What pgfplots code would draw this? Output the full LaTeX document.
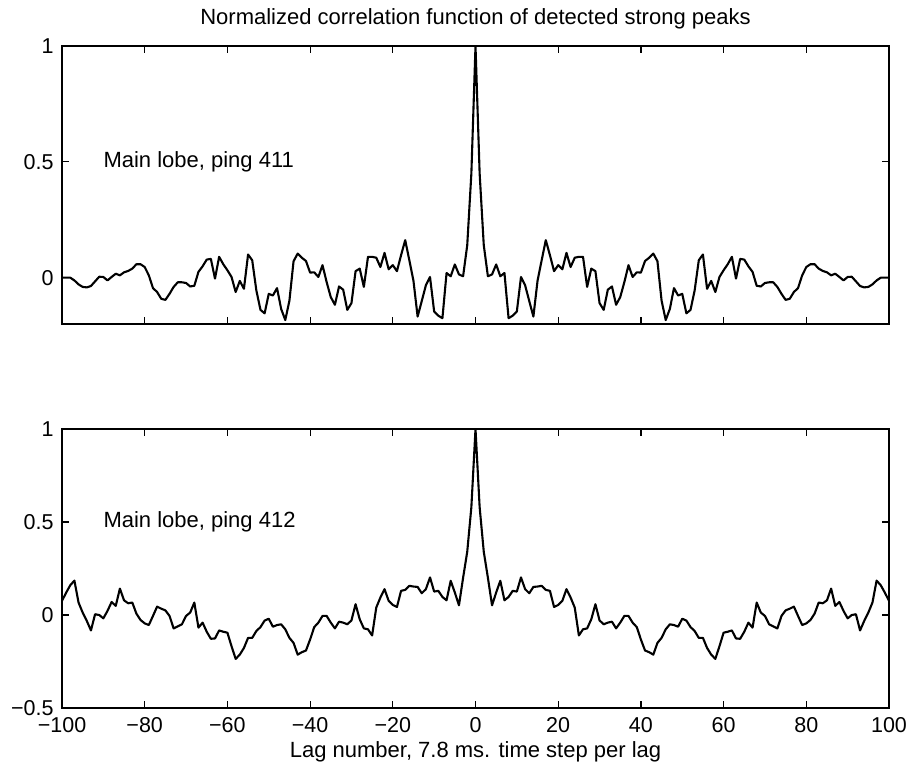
\documentclass[border=0pt]{standalone}
\usepackage{pgfplots}
\pgfplotsset{compat=1.18}
\usepackage{fontspec}
\setmainfont{Liberation Sans}
\pgfplotsset{
  myax/.style={
    scale only axis, width=827bp, anchor=south west,
    xmin=-100, xmax=100,
    tick align=inside, major tick length=7bp,
    axis line style={line width=1.6bp},
    every tick/.style={line width=1.2bp, black},
    tick label style={font=\fontsize{21.5bp}{25bp}\selectfont},
    xtick={-100,-80,-60,-40,-20,0,20,40,60,80,100},
  },
  myline/.style={black, no markers, line width=2.1bp, line join=round}
}
\begin{document}
\fontsize{22bp}{26bp}\selectfont
\begin{tikzpicture}
\path[use as bounding box] (0bp,0bp) rectangle (911bp,766bp);
\begin{axis}[myax, at={(62bp,442bp)}, height=278bp,
  ymin=-0.2, ymax=1,
  xticklabels={},
  ytick={0,0.5,1}, yticklabels={0,0.5,1},
  yticklabel style={xshift=-1bp}]
\addplot[myline] coordinates {
(-100,0) (-99,0) (-98,0) (-97,-0.012) (-96,-0.029) (-95,-0.04) (-94,-0.042) (-93,-0.036) (-92,-0.016) (-91,0.004)
(-90,0.003) (-89,-0.012) (-88,0.003) (-87,0.017) (-86,0.01) (-85,0.023) (-84,0.029) (-83,0.039) (-82,0.058) (-81,0.058)
(-80,0.046) (-79,0.01) (-78,-0.045) (-77,-0.062) (-76,-0.091) (-75,-0.096) (-74,-0.07) (-73,-0.04) (-72,-0.02) (-71,-0.02)
(-70,-0.023) (-69,-0.038) (-68,-0.035) (-67,0.025) (-66,0.049) (-65,0.078) (-64,0.081) (-63,-0.004) (-62,0.09) (-61,0.058)
(-60,0.032) (-59,0.003) (-58,-0.062) (-57,-0.014) (-56,-0.048) (-55,0.1) (-54,0.075) (-53,-0.055) (-52,-0.139) (-51,-0.154)
(-50,-0.07) (-49,-0.077) (-48,-0.045) (-47,-0.135) (-46,-0.183) (-45,-0.099) (-44,0.071) (-43,0.104) (-42,0.086) (-41,0.072)
(-40,0.022) (-39,0.023) (-38,0.003) (-37,0.054) (-36,-0.019) (-35,-0.084) (-34,-0.117) (-33,-0.038) (-32,-0.052) (-31,-0.139)
(-30,-0.11) (-29,0.028) (-28,0.039) (-27,-0.04) (-26,0.09) (-25,0.09) (-24,0.086) (-23,0.046) (-22,0.107) (-21,0.036)
(-20,0.054) (-19,0.028) (-18,0.097) (-17,0.162) (-16,0.075) (-15,-0.014) (-14,-0.168) (-13,-0.101) (-12,-0.033) (-11,0.003)
(-10,-0.146) (-9,-0.164) (-8,-0.175) (-7,0.02) (-6,0.006) (-5,0.057) (-4,0.014) (-3,0.006) (-2,0.14) (-1,0.45)
(0,1)
(1,0.45) (2,0.14) (3,0.006) (4,0.014) (5,0.057) (6,0.006) (7,0.02) (8,-0.175) (9,-0.164) (10,-0.146)
(11,0.003) (12,-0.033) (13,-0.101) (14,-0.168) (15,-0.014) (16,0.075) (17,0.162) (18,0.097) (19,0.028) (20,0.054)
(21,0.036) (22,0.107) (23,0.046) (24,0.086) (25,0.09) (26,0.09) (27,-0.04) (28,0.039) (29,0.028) (30,-0.11)
(31,-0.139) (32,-0.052) (33,-0.038) (34,-0.117) (35,-0.084) (36,-0.019) (37,0.054) (38,0.003) (39,0.023) (40,0.022)
(41,0.072) (42,0.086) (43,0.104) (44,0.071) (45,-0.099) (46,-0.183) (47,-0.135) (48,-0.045) (49,-0.077) (50,-0.07)
(51,-0.154) (52,-0.139) (53,-0.055) (54,0.075) (55,0.1) (56,-0.048) (57,-0.014) (58,-0.062) (59,0.003) (60,0.032)
(61,0.058) (62,0.09) (63,-0.004) (64,0.081) (65,0.078) (66,0.049) (67,0.025) (68,-0.035) (69,-0.038) (70,-0.023)
(71,-0.02) (72,-0.02) (73,-0.04) (74,-0.07) (75,-0.096) (76,-0.091) (77,-0.062) (78,-0.045) (79,0.01) (80,0.046)
(81,0.058) (82,0.058) (83,0.039) (84,0.029) (85,0.023) (86,0.01) (87,0.017) (88,0.003) (89,-0.012) (90,0.003)
(91,0.004) (92,-0.016) (93,-0.036) (94,-0.042) (95,-0.04) (96,-0.029) (97,-0.012) (98,0) (99,0) (100,0)
};
\node[anchor=west, inner sep=0pt] at (axis cs:-90,0.5) {Main lobe, ping 411};
\end{axis}
\begin{axis}[myax, at={(62bp,58bp)}, height=279bp,
  ymin=-0.5, ymax=1,
  xticklabels={−100,−80,−60,−40,−20,0,20,40,60,80,100},
  xticklabel style={yshift=-2bp},
  ytick={-0.5,0,0.5,1}, yticklabels={−0.5,0,0.5,1},
  yticklabel style={xshift=-1bp}]
\addplot[myline] coordinates {
(-100,0.076) (-99,0.12) (-98,0.16) (-97,0.185) (-96,0.067) (-95,0.013) (-94,-0.032) (-93,-0.083) (-92,0.004) (-91,0)
(-90,-0.018) (-89,0.022) (-88,0.07) (-87,0.049) (-86,0.142) (-85,0.079) (-84,0.063) (-83,0.067) (-82,0.007) (-81,-0.027)
(-80,-0.045) (-79,-0.054) (-78,-0.005) (-77,0.045) (-76,0.034) (-75,0.025) (-74,-0.005) (-73,-0.072) (-72,-0.061) (-71,-0.05)
(-70,-0.005) (-69,0.013) (-68,0.067) (-67,-0.068) (-66,-0.041) (-65,-0.09) (-64,-0.128) (-63,-0.126) (-62,-0.083) (-61,-0.09)
(-60,-0.095) (-59,-0.168) (-58,-0.236) (-57,-0.213) (-56,-0.177) (-55,-0.123) (-54,-0.123) (-53,-0.086) (-52,-0.065) (-51,-0.03)
(-50,-0.02) (-49,-0.063) (-48,-0.054) (-47,-0.05) (-46,-0.077) (-45,-0.123) (-44,-0.15) (-43,-0.213) (-42,-0.2) (-41,-0.191)
(-40,-0.132) (-39,-0.065) (-38,-0.041) (-37,-0.005) (-36,-0.005) (-35,-0.041) (-34,-0.072) (-33,-0.036) (-32,-0.041) (-31,-0.05)
(-30,-0.029) (-29,0.058) (-28,-0.023) (-27,-0.072) (-26,-0.077) (-25,-0.11) (-24,0.04) (-23,0.094) (-22,0.139) (-21,0.076)
(-20,0.054) (-19,0.043) (-18,0.13) (-17,0.135) (-16,0.157) (-15,0.153) (-14,0.151) (-13,0.117) (-12,0.139) (-11,0.202)
(-10,0.126) (-9,0.13) (-8,0.097) (-7,0.079) (-6,0.184) (-5,0.121) (-4,0.052) (-3,0.2) (-2,0.34) (-1,0.58)
(0,1)
(1,0.58) (2,0.34) (3,0.2) (4,0.052) (5,0.121) (6,0.184) (7,0.079) (8,0.097) (9,0.13) (10,0.126)
(11,0.202) (12,0.139) (13,0.117) (14,0.151) (15,0.153) (16,0.157) (17,0.135) (18,0.13) (19,0.043) (20,0.054)
(21,0.076) (22,0.139) (23,0.094) (24,0.04) (25,-0.11) (26,-0.077) (27,-0.072) (28,-0.023) (29,0.058) (30,-0.029)
(31,-0.05) (32,-0.041) (33,-0.036) (34,-0.072) (35,-0.041) (36,-0.005) (37,-0.005) (38,-0.041) (39,-0.065) (40,-0.132)
(41,-0.191) (42,-0.2) (43,-0.213) (44,-0.15) (45,-0.123) (46,-0.077) (47,-0.05) (48,-0.054) (49,-0.063) (50,-0.02)
(51,-0.03) (52,-0.065) (53,-0.086) (54,-0.123) (55,-0.123) (56,-0.177) (57,-0.213) (58,-0.236) (59,-0.168) (60,-0.095)
(61,-0.09) (62,-0.083) (63,-0.126) (64,-0.128) (65,-0.09) (66,-0.041) (67,-0.068) (68,0.067) (69,0.013) (70,-0.005)
(71,-0.05) (72,-0.061) (73,-0.072) (74,-0.005) (75,0.025) (76,0.034) (77,0.045) (78,-0.005) (79,-0.054) (80,-0.045)
(81,-0.027) (82,0.007) (83,0.067) (84,0.063) (85,0.079) (86,0.142) (87,0.049) (88,0.07) (89,0.022) (90,-0.018)
(91,0) (92,0.004) (93,-0.083) (94,-0.032) (95,0.013) (96,0.067) (97,0.185) (98,0.16) (99,0.12) (100,0.076)
};
\node[anchor=west, inner sep=0pt] at (axis cs:-90,0.5) {Main lobe, ping 412};
\end{axis}
\node[anchor=base] at (475.5bp,741bp) {Normalized correlation function of detected strong peaks};
\node[anchor=base] at (475.5bp,9bp) {Lag number, 7.8 ms. time step per lag};
\end{tikzpicture}
\end{document}
